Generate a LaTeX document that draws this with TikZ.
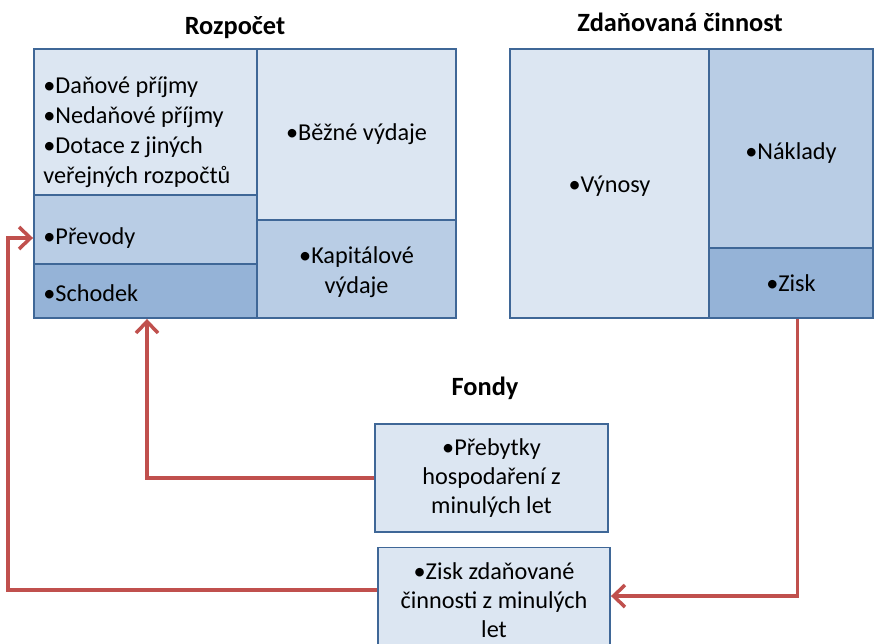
\documentclass[tikz,border=0pt]{standalone}
\usepackage{fontspec}
\setmainfont{Carlito}
\usetikzlibrary{arrows.meta}

\definecolor{celllight}{HTML}{DCE6F2}
\definecolor{cellmid}{HTML}{B9CDE5}
\definecolor{celldark}{HTML}{95B3D7}
\definecolor{cellline}{HTML}{3F6797}
\definecolor{flowred}{HTML}{C0504D}

\tikzset{
  cell/.style={rectangle, draw=cellline, line width=1.1pt, inner sep=0pt,
               font=\fontsize{13.8}{16.5}\selectfont, align=center},
  celltext/.style={inner sep=0pt, font=\fontsize{13.8}{17}\selectfont, align=left},
  heading/.style={font=\fontsize{15}{18}\selectfont\bfseries},
  flow/.style={draw=flowred, line width=2pt,
               -{Straight Barb[length=2.3mm,width=4.4mm,line width=2pt]}}
}

\begin{document}
\begin{tikzpicture}[x=0.02cm,y=-0.02cm]
\useasboundingbox (0,0) rectangle (874,643);

% Rozpocet
\node [heading] (titRoz) at (235,28) {Rozpočet};
\node [cell, fill=celllight, minimum width=4.46cm, minimum height=2.92cm] (prijmy) at (145.5,122) {};
\node [cell, fill=cellmid, minimum width=4.46cm, minimum height=1.38cm] (prevody) at (145.5,229.5) {};
\node [cell, fill=celldark, minimum width=4.46cm, minimum height=1.08cm] (schodek) at (145.5,291) {};
\node [cell, fill=celllight, minimum width=3.98cm, minimum height=3.42cm] (bezne) at (356.5,134.5) {•Běžné výdaje};
\node [cell, fill=cellmid, minimum width=3.98cm, minimum height=1.96cm] (kapital) at (356.5,269) {};

\node [celltext, anchor=west] (prijmytxt) at ([xshift=0.2cm,yshift=-0.2cm]prijmy.west)
      {•Daňové příjmy\\ •Nedaňové příjmy\\ •Dotace z jiných\\ veřejných rozpočtů};
\node [celltext, anchor=west] (prevodytxt) at ([xshift=0.2cm,yshift=-0.18cm]prevody.west) {•Převody};
\node [celltext, anchor=west] (schodektxt) at ([xshift=0.2cm,yshift=-0.04cm]schodek.west) {•Schodek};
\node [celltext, align=center] (kapitaltxt) at ([yshift=-0.06cm]kapital.center) {•Kapitálové\\ výdaje};

% Zdanovana cinnost
\node [heading] (titZda) at (680,22) {Zdaňovaná činnost};
\node [cell, fill=celllight, minimum width=3.98cm, minimum height=5.38cm] (vynosy) at (609.5,183.5) {};
\node [cell, fill=cellmid, minimum width=3.28cm, minimum height=3.98cm] (naklady) at (791,148.5) {};
\node [cell, fill=celldark, minimum width=3.28cm, minimum height=1.4cm] (zisk) at (791,283) {•Zisk};
\node [celltext] (vynosytxt) at ([yshift=-0.06cm]vynosy.center) {•Výnosy};
\node [celltext] (nakladytxt) at ([yshift=-0.1cm]naklady.center) {•Náklady};

% Fondy
\node [heading] (titFon) at (485,388) {Fondy};
\node [cell, fill=celllight, minimum width=4.66cm, minimum height=2.16cm] (prebytky) at (491.5,478)
      {•Přebytky\\ hospodaření z\\ minulých let};
\node [cell, fill=celllight, minimum width=4.64cm, minimum height=2.1cm] (ziskfond) at (494,600)
      {•Zisk zdaňované\\ činnosti z minulých\\ let};

\coordinate (leftcol) at (8,0);
\coordinate (previn) at ([yshift=-0.17cm]prevody.west);

\draw [flow] (prebytky.west) -| ([xshift=0.03cm]schodek.south);
\draw [flow] ([yshift=0.2cm]ziskfond.west) -| (leftcol |- previn) -- (previn);
\draw [flow] ([xshift=0.13cm]zisk.south) |- ([yshift=0.08cm]ziskfond.east);

\end{tikzpicture}
\end{document}
